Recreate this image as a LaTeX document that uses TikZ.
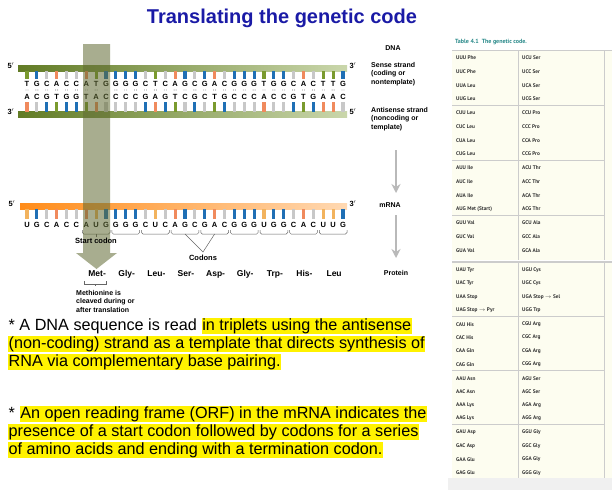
\documentclass[tikz,border=0pt]{standalone}
\usepackage{fontspec}
\setmainfont{Liberation Sans}
\newfontfamily\cond{PT Sans}
\usetikzlibrary{calc,arrows.meta}
\definecolor{cA}{HTML}{F08A5D}\definecolor{cT}{HTML}{7A9A2E}\definecolor{cG}{HTML}{1F6FB5}
\definecolor{cC}{HTML}{C8C8C8}\definecolor{cU}{HTML}{F2B35E}
\definecolor{ttl}{HTML}{1A1AA6}\definecolor{teal}{HTML}{2A8A8A}\definecolor{cream}{HTML}{FDFDF0}
\tikzset{
 lab/.style={font=\bfseries\fontsize{7}{8.5}\selectfont,align=left,anchor=north west,inner sep=0},
 base/.style={font=\bfseries\fontsize{7.5}{8}\selectfont,inner sep=0},
 body/.style={font=\fontsize{16.2}{18}\selectfont,inner sep=0.5pt,anchor=base west},
 hl/.style={body,fill=yellow},
 tb/.style={font=\cond\bfseries\fontsize{5.3}{6}\selectfont,inner sep=0,anchor=west,text=black!80},
 gar/.style={draw=gray!55,line width=1.8pt,-{Stealth[length=9pt,width=9pt]}},
}
\begin{document}
\begin{tikzpicture}[x=1pt,y=-1pt]
\useasboundingbox[fill=white] (0,0) rectangle (612,490);
\node[font=\bfseries\fontsize{20}{22}\selectfont,text=ttl] (title) at (282,18) {Translating the genetic code};
% strands
\shade[left color=cT!80!black,right color=cT!40] (18,65.5) rectangle (347,71.5);
\shade[left color=cT!80!black,right color=cT!40] (18,111.5) rectangle (347,117.5);
\shade[left color=orange!90,right color=orange!30] (20,203.5) rectangle (347,209.5);
\node[base] (s5) at (11,66) {5$'$};\node[base] (s3) at (353,66) {3$'$};
\node[base] (a3) at (11,112) {3$'$};\node[base] (a5) at (353,112) {5$'$};
\node[base] (m5) at (12,204) {5$'$};\node[base] (m3) at (353,204) {3$'$};
\def\sense{T,G,C,A,C,C,A,T,G,G,G,G,C,T,C,A,G,C,G,A,C,G,G,G,T,G,G,C,A,C,T,T,G}
\def\anti{A,C,G,T,G,G,T,A,C,C,C,C,G,A,G,T,C,G,C,T,G,C,C,C,A,C,C,G,T,G,A,A,C}
\def\mrna{U,G,C,A,C,C,A,U,G,G,G,G,C,U,C,A,G,C,G,A,C,G,G,G,U,G,G,C,A,C,U,U,G}
\foreach \b [count=\i from 0] in \sense {
  \pgfmathsetmacro\x{27+\i*9.875}
  \fill[c\b] (\x-1.6,71) rectangle (\x+1.6,79);
  \node[base] (s\i) at (\x,83.5) {\b};
  \ifx\b G \fill[black!70] (\x-2,90) circle (0.45) (\x,90) circle (0.45) (\x+2,90) circle (0.45);\else
  \ifx\b C \fill[black!70] (\x-2,90) circle (0.45) (\x,90) circle (0.45) (\x+2,90) circle (0.45);\else
  \fill[black!70] (\x-1,90) circle (0.45) (\x+1,90) circle (0.45);\fi\fi
}
\foreach \b [count=\i from 0] in \anti {
  \pgfmathsetmacro\x{27+\i*9.875}
  \fill[c\b] (\x-1.6,102) rectangle (\x+1.6,112);
  \node[base] (t\i) at (\x,97) {\b};
}
\foreach \b [count=\i from 0] in \mrna {
  \pgfmathsetmacro\x{27+\i*9.875}
  \fill[c\b] (\x-1.6,209) rectangle (\x+1.6,219);
  \node[base] (m\i) at (\x,225) {\b};
}
% codon braces
\foreach \k in {0,...,8}{
  \pgfmathsetmacro\xa{27+(6+3*\k)*9.875-4}
  \pgfmathsetmacro\xb{27+(8+3*\k)*9.875+4}
  \draw[gray!80!black,line width=0.5pt,rounded corners=1.5pt] (\xa,230) -- (\xa,234) -- (\xb,234) -- (\xb,230);
}
\pgfmathsetmacro\xs{27+7*9.875}
\draw[gray!80!black,line width=0.5pt] (\xs,234) -- (\xs,236.5);
% big arrow
\fill[olive!70!green!60!black,opacity=0.55] (83,44) -- (110,44) -- (110,253) -- (117,253) -- (96.5,269) -- (76,253) -- (83,253) -- cycle;
\node[base] (startc) at (96,241) {Start codon};
\node[base] (codons) at (203,258) {Codons};
\coordinate (cv) at (203,252);
\draw[gray!80!black,line width=0.5pt] ($(m16)+(0,9)$) -- (cv) -- ($(m19)+(0,9)$);
% protein
\foreach \aa [count=\k from 0] in {Met-,Gly-,Leu-,Ser-,Asp-,Gly-,Trp-,His-,Leu}{
  \pgfmathsetmacro\x{27+(7+3*\k)*9.875+1}
  \node[base,anchor=base,font=\bfseries\fontsize{8.5}{9}\selectfont] (p\k) at (\x,276) {\aa};
}
\draw[gray!80!black,line width=0.5pt] (84,281) -- (84,284) -- (106,284) -- (106,281) (95,284) -- (95,286);
\node[lab] (meth) at (76,290) {Methionine is\\cleaved during or\\after translation};
% right labels
\node[base,font=\bfseries\fontsize{7}{8}\selectfont] (dna) at (393,48) {DNA};
\node[lab] (sl) at (371,62) {Sense strand\\(coding or\\nontemplate)};
\node[lab] (al) at (371,107) {Antisense strand\\(noncoding or\\template)};
\node[base,font=\bfseries\fontsize{7}{8}\selectfont] (ml) at (390,205) {mRNA};
\node[base,font=\bfseries\fontsize{7}{8}\selectfont] (pl) at (396,273) {Protein};
\draw[gar] (396,150) -- (396,193);
\draw[gar] (396,215) -- (396,258);
% body text
\node[body] (l1a) at (8,330) {* A DNA sequence is read};
\node[hl,xshift=4pt] (l1b) at (l1a.base east) {in triplets using the antisense};
\node[hl] (l2) at (8,348) {(non-coding) strand as a template that directs synthesis of};
\node[hl] (l3) at (8,366) {RNA via complementary base pairing.};
\node[body] (l4a) at (8,418) {*};
\node[hl,xshift=4pt] (l4b) at (l4a.base east) {An open reading frame (ORF) in the mRNA indicates the};
\node[hl] (l5) at (8,436) {presence of a start codon followed by codons for a series};
\node[hl] (l6) at (8,454) {of amino acids and ending with a termination codon.};
% table
\fill[gray!12] (448,478) rectangle (612,490);
\node[font=\cond\bfseries\fontsize{6}{7}\selectfont,text=teal,anchor=west,inner sep=0] (tt) at (455,42) {Table 4.1\enspace The genetic code.};
\fill[cream] (452,50) rectangle (612,260);
\fill[cream] (452,263) rectangle (612,478);
\draw[gray!40] (452,50) -- (612,50);
\draw[gray!40,line width=1.2pt] (452,262) -- (612,262);
\draw[gray!40] (518,50) -- (518,260) (518,263) -- (518,478) (604,50) -- (604,260) (604,263) -- (604,478);
\foreach \y in {105,160,215,316,370,424} \draw[gray!40] (452,\y) -- (604,\y);
\foreach \t [count=\i from 0] in {UUU Phe,UUC Phe,UUA Leu,UUG Leu,CUU Leu,CUC Leu,CUA Leu,CUG Leu,AUU Ile,AUC Ile,AUA Ile,AUG Met (Start),GUU Val,GUC Val,GUA Val}{
  \pgfmathsetmacro\y{58+\i*13.6+int(\i/4)*0.6}
  \node[tb] (ta\i) at (456,\y) {\t};}
\foreach \t [count=\i from 0] in {UCU Ser,UCC Ser,UCA Ser,UCG Ser,CCU Pro,CCC Pro,CCA Pro,CCG Pro,ACU Thr,ACC Thr,ACA Thr,ACG Thr,GCU Ala,GCC Ala,GCA Ala}{
  \pgfmathsetmacro\y{58+\i*13.6+int(\i/4)*0.6}
  \node[tb] (tb\i) at (522,\y) {\t};}
\foreach \t [count=\i from 0] in {UAU Tyr,UAC Tyr,UAA Stop,UAG Stop $\to$ Pyr,CAU His,CAC His,CAA Gln,CAG Gln,AAU Asn,AAC Asn,AAA Lys,AAG Lys,GAU Asp,GAC Asp,GAA Glu,GAG Glu}{
  \pgfmathsetmacro\y{270+\i*13.4+int(\i/4)*0.6}
  \node[tb] (tc\i) at (456,\y) {\t};}
\foreach \t [count=\i from 0] in {UGU Cys,UGC Cys,UGA Stop $\to$ Sel,UGG Trp,CGU Arg,CGC Arg,CGA Arg,CGG Arg,AGU Ser,AGC Ser,AGA Arg,AGG Arg,GGU Gly,GGC Gly,GGA Gly,GGG Gly}{
  \pgfmathsetmacro\y{270+\i*13.4+int(\i/4)*0.6}
  \node[tb] (td\i) at (522,\y) {\t};}
\end{tikzpicture}
\end{document}
